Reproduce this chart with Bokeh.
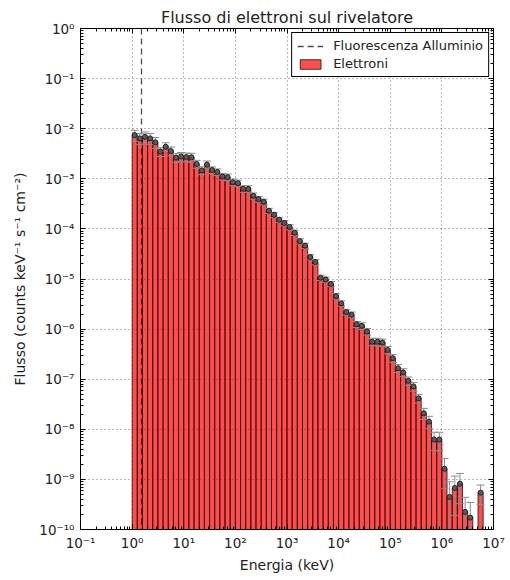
import numpy as np
from bokeh.plotting import figure
from bokeh.models import (ColumnDataSource, LogAxis, FixedTicker, CustomJSTickFormatter,
                          Legend, LegendItem, Range1d)
from bokeh.embed import file_html
from bokeh.resources import INLINE

# ---------------- data ----------------
bin_edges = np.logspace(0, 6.8, 69)          # keV, 0.1 dex bins from 1 keV
flux = [7.46e-3, 6.41e-3, 6.90e-3, 6.41e-3, 5.34e-3, 3.48e-3, 4.37e-3, 3.59e-3,
        2.64e-3, 2.79e-3, 2.72e-3, 2.69e-3, 1.98e-3, 1.47e-3, 1.92e-3, 1.50e-3,
        1.37e-3, 1.11e-3, 1.08e-3, 8.56e-4, 8.17e-4, 6.30e-4, 6.30e-4, 4.57e-4,
        3.93e-4, 3.47e-4, 2.30e-4, 1.91e-4, 1.52e-4, 1.31e-4, 1.09e-4, 8.40e-5,
        5.69e-5, 4.63e-5, 2.74e-5, 2.18e-5, 1.06e-5, 9.77e-6, 7.96e-6, 4.55e-6,
        3.26e-6, 2.19e-6, 1.94e-6, 1.25e-6, 1.16e-6, 8.92e-7, 5.60e-7, 5.60e-7,
        5.39e-7, 3.84e-7, 2.63e-7, 1.66e-7, 1.37e-7, 9.29e-8, 7.19e-8, 4.15e-8,
        2.09e-8, 1.42e-8, 6.24e-9, 6.24e-9, 1.63e-9, 4.47e-10, 6.75e-10, 8.22e-10,
        2.25e-10, 1.73e-10, 0.0, 5.44e-10]
rel_err = [0.25, 0.25, 0.25, 0.25, 0.25, 0.2, 0.2, 0.2,
           0.2, 0.2, 0.2, 0.2, 0.18, 0.18, 0.18, 0.15,
           0.15, 0.15, 0.15, 0.15, 0.15, 0.15, 0.15, 0.14,
           0.13, 0.13, 0.12, 0.12, 0.12, 0.12, 0.12, 0.12,
           0.12, 0.12, 0.12, 0.12, 0.12, 0.12, 0.12, 0.12,
           0.12, 0.13, 0.13, 0.14, 0.15, 0.15, 0.17, 0.17,
           0.17, 0.17, 0.18, 0.18, 0.18, 0.19, 0.2, 0.2,
           0.25, 0.28, 0.4, 0.4, 0.6, 1.0, 0.72, 0.6,
           0.95, 1.0, 0.0, 0.42]
al_fluo_kev = [1.486]
x_tick_exp = list(range(-1, 8))
y_tick_exp = list(range(-10, 1))

# ---------------- derived ----------------
flux_a = np.array(flux)
rel_a = np.array(rel_err)
mask = flux_a > 0
left = bin_edges[:-1][mask]
right = bin_edges[1:][mask]
centre = np.sqrt(left * right)
vals = flux_a[mask]
rel = rel_a[mask]
upper = vals * (1 + rel)
has_low = rel < 1
lower = np.where(has_low, vals * (1 - rel), 1e-13)

FONT = "DejaVu Sans"
p = figure(width=505, height=575, x_axis_type="log", y_axis_type="log",
           x_range=Range1d(1e-1, 1e7), y_range=Range1d(1e-10, 1e0),
           output_backend="svg", toolbar_location=None,
           min_border_left=80, min_border_right=12, min_border_top=28, min_border_bottom=44)
p.title.text = "Flusso di elettroni sul rivelatore"
p.title.text_font = FONT
p.title.text_font_size = "16px"
p.title.text_font_style = "normal"
p.title.text_color = "#222222"
p.title.align = "center"
p.title.standoff = 3
p.outline_line_color = "black"
p.outline_line_width = 1

sup_js = """
const sup = {'-':'\u207b','0':'\u2070','1':'\u00b9','2':'\u00b2','3':'\u00b3','4':'\u2074','5':'\u2075','6':'\u2076','7':'\u2077','8':'\u2078','9':'\u2079'};
const e = Math.round(Math.log10(tick));
return '10' + String(e).split('').map(c => sup[c]).join('');
"""
xt = [10.0 ** k for k in x_tick_exp]
yt = [10.0 ** k for k in y_tick_exp]
xminor = [m * 10.0 ** k for k in x_tick_exp[:-1] for m in range(2, 10)]
yminor = [m * 10.0 ** k for k in y_tick_exp[:-1] for m in range(2, 10)]
xticker = FixedTicker(ticks=xt, minor_ticks=xminor)
yticker = FixedTicker(ticks=yt, minor_ticks=yminor)

def style_axis(ax, labels=True):
    ax.major_tick_in = 5
    ax.major_tick_out = 0
    ax.minor_tick_in = 3
    ax.minor_tick_out = 0
    ax.axis_line_color = "black"
    ax.major_tick_line_color = "black"
    ax.minor_tick_line_color = "black"
    ax.major_label_text_font = FONT
    ax.major_label_text_font_size = "13.5px"
    ax.major_label_text_color = "#222222"
    ax.axis_label_text_font = FONT
    ax.axis_label_text_font_size = "14px"
    ax.axis_label_text_font_style = "normal"
    ax.axis_label_text_color = "#222222"
    if not labels:
        ax.major_label_text_font_size = "0px"
        ax.major_label_standoff = 0
        ax.formatter = CustomJSTickFormatter(code="return '';")
    else:
        ax.formatter = CustomJSTickFormatter(code=sup_js)

p.xaxis.ticker = xticker
p.yaxis.ticker = yticker
style_axis(p.xaxis[0])
style_axis(p.yaxis[0])
p.xaxis.axis_label = "Energia (keV)"
p.yaxis.axis_label = "Flusso (counts keV\u207b\u00b9 s\u207b\u00b9 cm\u207b\u00b2)"
p.xaxis.major_label_standoff = 5
p.yaxis.major_label_standoff = 6
p.xaxis.axis_label_standoff = 3
p.yaxis.axis_label_standoff = 8

top_ax = LogAxis(ticker=xticker)
right_ax = LogAxis(ticker=yticker)
style_axis(top_ax, labels=False)
style_axis(right_ax, labels=False)
p.add_layout(top_ax, "above")
p.add_layout(right_ax, "right")

p.xgrid.ticker = xticker
p.ygrid.ticker = yticker
for g in (p.xgrid[0], p.ygrid[0]):
    g.grid_line_color = "black"
    g.grid_line_alpha = 0.55
    g.grid_line_dash = "1 3"
    g.grid_line_width = 1

src = ColumnDataSource(dict(left=left, right=right, top=vals, bottom=np.full(len(vals), 1e-13),
                            x=centre, upper=upper, lower=lower))
bars = p.quad(left="left", right="right", top="top", bottom="bottom", source=src,
              fill_color="red", fill_alpha=0.7, line_color="black", line_alpha=0.7, line_width=1)

vl = p.vspan(x=al_fluo_kev, line_color="black", line_alpha=0.7, line_width=1.3, line_dash="6 4")

p.segment(x0="x", y0="lower", x1="x", y1="upper", source=src, line_color="#8c8c8c", line_width=1)
p.scatter(x="x", y="upper", source=src, marker="dash", size=8, line_color="#8c8c8c", line_width=1)
low_src = ColumnDataSource(dict(x=centre[has_low], y=lower[has_low]))
p.scatter(x="x", y="y", source=low_src, marker="dash", size=8, line_color="#8c8c8c", line_width=1)
p.scatter(x="x", y="top", source=src, marker="circle", size=5, fill_color="#5a5a5a",
          line_color="#222222", line_width=1)

legend = Legend(items=[LegendItem(label="Fluorescenza Alluminio", renderers=[vl]),
                       LegendItem(label="Elettroni", renderers=[bars])],
                location="top_right")
legend.label_text_font = FONT
legend.label_text_font_size = "13px"
legend.label_text_color = "#222222"
legend.border_line_color = "black"
legend.border_line_width = 1
legend.border_line_alpha = 1
legend.background_fill_alpha = 1
legend.glyph_width = 26
legend.glyph_height = 12
legend.label_standoff = 10
legend.spacing = 3
legend.padding = 5
legend.margin = 4
legend.label_height = 15
p.add_layout(legend)

open("out.html", "w").write(file_html(p, INLINE))
